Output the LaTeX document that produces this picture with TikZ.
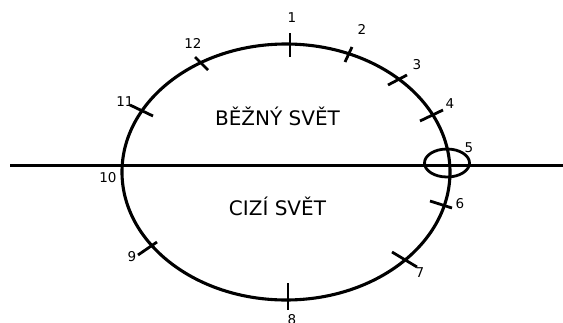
\documentclass[tikz,border=0pt]{standalone}
\usepackage{fontspec}
\setmainfont{DejaVu Sans}
\begin{document}
\begin{tikzpicture}[x=1pt,y=-1pt,
  stroke/.style={line width=3.1pt,black},
  tick/.style={line width=2.8pt,black},
  num/.style={font=\fontsize{13.5}{14}\selectfont,inner sep=0pt},
  world/.style={font=\fontsize{20}{22}\selectfont,inner sep=0pt,anchor=base}]
\useasboundingbox (0,0) rectangle (563,322);
\clip (0,0) rectangle (563,322);

% horizon line and the big orbit
\draw[stroke] (10,165.5) -- (563,165.5);
\draw[stroke] (286,172) ellipse [x radius=164pt, y radius=128pt];
% small ring at point 5
\draw[line width=2.8pt] (447,163) ellipse [x radius=22.5pt, y radius=14pt];

% tick marks on the orbit
\draw[tick] (290,33) -- (290,57);
\draw[tick] (345,62) -- (352,47);
\draw[tick] (388,85) -- (407,75);
\draw[tick] (420,121) -- (443,110);
\draw[tick] (430,201) -- (452,208);
\draw[tick] (392,252) -- (417,267);
\draw[tick] (288,283) -- (288,310);
\draw[tick] (138,255) -- (157,242);
\draw[tick] (130,105) -- (153,116);
\draw[tick] (195,57) -- (208,70);

% position numbers
\node[num] (n1)  at (292,18)  {1};
\node[num] (n2)  at (362,29)  {2};
\node[num] (n3)  at (417,65)  {3};
\node[num] (n4)  at (450,104) {4};
\node[num] (n5)  at (469,148) {5};
\node[num] (n6)  at (460,204) {6};
\node[num] (n7)  at (420,273) {7};
\node[num] (n8)  at (292,320) {8};
\node[num] (n9)  at (132,257) {9};
\node[num] (n10) at (108,178) {10};
\node[num] (n11) at (125,102) {11};
\node[num] (n12) at (193,43)  {12};

% the two worlds
\node[world] (common) at (277.5,125) {BĚŽNÝ SVĚT};
\node[world] (strange) at (277.5,215) {CIZÍ SVĚT};
\end{tikzpicture}
\end{document}
